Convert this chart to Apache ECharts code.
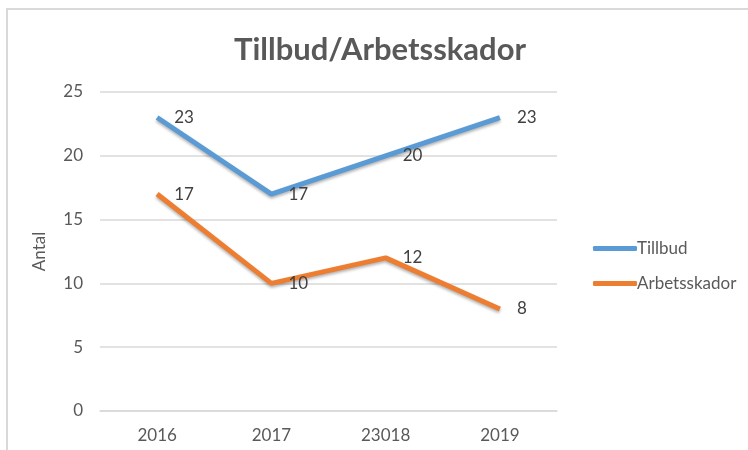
<!DOCTYPE html>
<html>
	<head>
		<meta charset="UTF-8">
		<title></title>
	</head>
	<body style="margin:0;">
		<div id="chart1" style="height: 450px;width: 748px;"></div>
		<script src="https://cdn.jsdelivr.net/npm/echarts@6/dist/echarts.min.js"></script>
		<script type="text/javascript">
			var years = ['2016', '2017', '23018', '2019'];
			var tillbud = [23, 17, 20, 23];
			var arbetsskador = [17, 10, 12, 8];
			var yTicks = [0, 5, 10, 15, 20, 25];

			var font = 'Lato, "Open Sans", sans-serif';
			var my_echarts = echarts.init(document.getElementById('chart1'));
			var lineSeries = function(name, data, color) {
				return {
					name: name,
					type: 'line',
					data: data,
					symbol: 'circle',
					symbolSize: 0,
					showSymbol: true,
					lineStyle: {
						width: 5,
						color: color,
						shadowColor: 'rgba(0,0,0,0.3)',
						shadowBlur: 3,
						shadowOffsetY: 2
					},
					itemStyle: { color: color },
					label: {
						show: true,
						position: 'right',
						distance: 17,
						color: '#404040',
						fontSize: 17,
						fontFamily: font
					}
				};
			};
			var option = {
				backgroundColor: '#fff',
				animation: false,
				graphic: [{
					type: 'rect',
					shape: { x: 7, y: 9, width: 760, height: 460 },
					style: { fill: 'none', stroke: '#d9d9d9', lineWidth: 2 }
				}],
				title: {
					text: 'Tillbud/Arbetsskador',
					left: 375,
					top: 29,
					textAlign: 'center',
					textStyle: {
						fontSize: 31,
						fontWeight: 'bold',
						color: '#595959',
						fontFamily: font
					}
				},
				legend: {
					orient: 'vertical',
					left: 588,
					top: 235,
					itemWidth: 44,
					itemHeight: 5,
					itemGap: 18,
					icon: 'roundRect',
					textStyle: { color: '#595959', fontSize: 17, fontFamily: font, padding: [0, 0, 0, -5] },
					data: ['Tillbud', 'Arbetsskador']
				},
				grid: {
					left: 100,
					right: 191,
					top: 92,
					bottom: 39
				},
				xAxis: {
					type: 'category',
					data: years,
					axisTick: { show: false },
					axisLine: { lineStyle: { color: '#d9d9d9', width: 1.5 } },
					axisLabel: { color: '#595959', fontSize: 17, fontFamily: font, margin: 16 }
				},
				yAxis: {
					type: 'value',
					min: yTicks[0],
					max: yTicks[yTicks.length - 1],
					interval: 5,
					name: 'Antal',
					nameLocation: 'middle',
					nameGap: 52,
					nameTextStyle: { color: '#595959', fontSize: 17, fontFamily: font },
					axisLine: { show: false },
					axisTick: { show: false },
					axisLabel: { color: '#595959', fontSize: 17, fontFamily: font, margin: 17 },
					splitLine: { lineStyle: { color: '#d9d9d9', width: 1.5 } }
				},
				series: [
					lineSeries('Tillbud', tillbud, '#5b9bd5'),
					lineSeries('Arbetsskador', arbetsskador, '#ed7d31')
				]
			};
			my_echarts.setOption(option);
		</script>
	</body>
</html>
